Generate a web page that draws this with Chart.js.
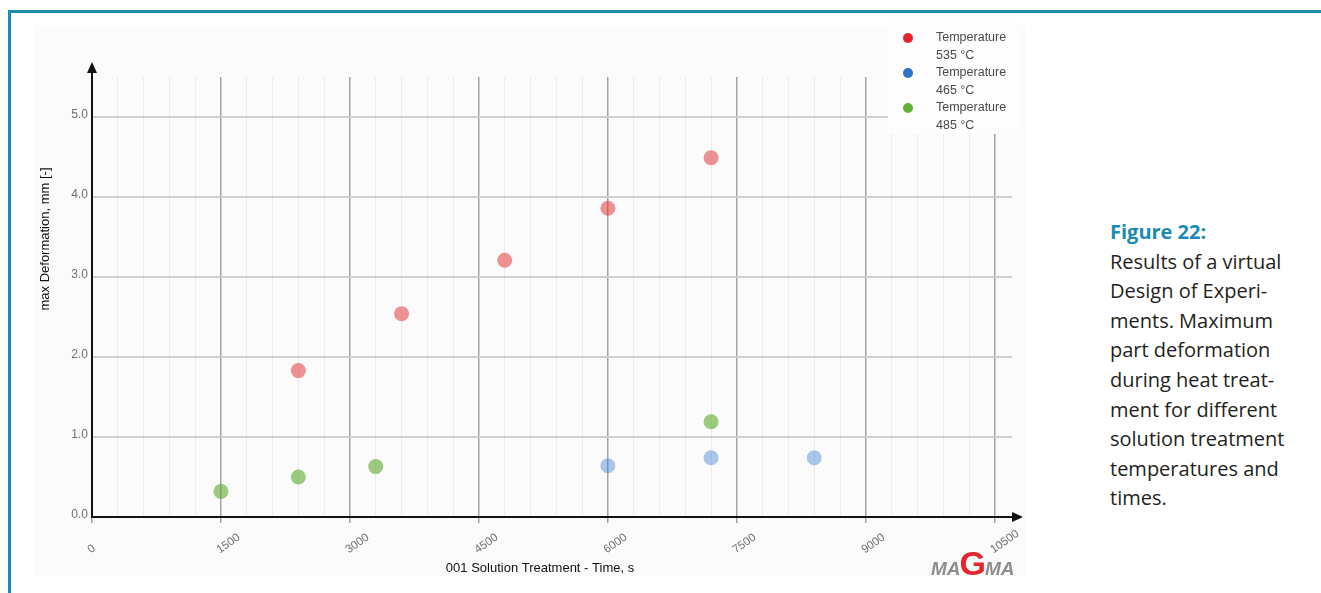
<!DOCTYPE html>
<html>
<head>
<meta charset="utf-8">
<script src="https://cdn.jsdelivr.net/npm/chart.js@4.4.1/dist/chart.umd.min.js"></script>
<style>
  html, body { margin: 0; padding: 0; background: #fff; }
  body { width: 1321px; height: 593px; position: relative; overflow: hidden; }
  .frame-top { position: absolute; left: 8px; top: 10px; width: 1313px; height: 3px; background: #1b8bb1; }
  .frame-left { position: absolute; left: 8px; top: 10px; width: 3px; height: 583px; background: #1b8bb1; }
  .panel { position: absolute; left: 35px; top: 25px; width: 990px; height: 551px; background: #fbfbfb; }
  #wrap { position: absolute; left: 0; top: 0; width: 1022px; height: 593px; }
  .caption { position: absolute; left: 1110px; top: 217px; width: 205px;
             font-family: "Open Sans", sans-serif; font-size: 20px; line-height: 29.6px; color: #231f20; }
  .caption .fig { color: #1b8bb1; font-weight: bold; }
</style>
</head>
<body>
<div class="panel"></div>
<div id="wrap"><canvas id="chart" width="1022" height="593"></canvas></div>
<div class="frame-top"></div>
<div class="frame-left"></div>
<div class="caption">
  <div class="fig">Figure 22:</div>
  <div>Results of a virtual</div>
  <div>Design of Experi-</div>
  <div>ments. Maximum</div>
  <div>part deformation</div>
  <div>during heat treat-</div>
  <div>ment for different</div>
  <div>solution treatment</div>
  <div>temperatures and</div>
  <div>times.</div>
</div>
<script>
// Solution treatment time (s) and maximum deformation (mm) per temperature
const time535 = [2400, 3600, 4800, 6000, 7200];
const def535  = [1.83, 2.54, 3.21, 3.86, 4.49];
const time465 = [6000, 7200, 8400];
const def465  = [0.64, 0.74, 0.74];
const time485 = [1500, 2400, 3300, 7200];
const def485  = [0.32, 0.50, 0.63, 1.19];

const seriesNames = [["Temperature", "535 °C"], ["Temperature", "465 °C"], ["Temperature", "485 °C"]];
const xTickValues = [0, 1500, 3000, 4500, 6000, 7500, 9000, 10500];
const xTickLabels = ["0", "1500", "3000", "4500", "6000", "7500", "9000", "10500"];
const yTickValues = [0, 1, 2, 3, 4, 5];
const yTickLabels = ["0.0", "1.0", "2.0", "3.0", "4.0", "5.0"];
const xTitle = "001 Solution Treatment - Time, s";
const yTitle = "max Deformation, mm [-]";

const pointColors  = ["rgba(226,40,44,0.5)", "rgba(50,125,210,0.42)", "rgba(92,170,44,0.6)"];
const legendColors = ["#e8232b", "#2f74c6", "#62b136"];

const toPoints = (xs, ys) => xs.map((x, i) => ({ x: x, y: ys[i] }));

// vertical grid every 300 s, labelled every 1500 s
const xGrid = [];
for (let v = 0; v <= 10500; v += 300) xGrid.push(v);
const isMajorX = v => v % 1500 === 0;

const decor = {
  id: 'decor',
  beforeDatasetsDraw(chart) {
    const { ctx, scales: { x, y } } = chart;
    ctx.save();
    // legend backdrop over the grid
    ctx.fillStyle = '#fdfdfd';
    ctx.fillRect(888, 22, 134, 112);
    // axes with arrow heads
    const x0 = x.getPixelForValue(0), y0 = y.getPixelForValue(0);
    ctx.strokeStyle = '#111';
    ctx.fillStyle = '#111';
    ctx.lineWidth = 2;
    ctx.beginPath();
    ctx.moveTo(x0, y0 + 1); ctx.lineTo(x0, 70);
    ctx.moveTo(x0 - 1, y0); ctx.lineTo(1014, y0);
    ctx.stroke();
    ctx.beginPath();
    ctx.moveTo(x0, 62); ctx.lineTo(x0 - 5, 73); ctx.lineTo(x0 + 5, 73); ctx.closePath(); ctx.fill();
    ctx.beginPath();
    ctx.moveTo(1023, y0); ctx.lineTo(1012, y0 - 5); ctx.lineTo(1012, y0 + 5); ctx.closePath(); ctx.fill();
    ctx.restore();
  },
  afterDraw(chart) {
    const { ctx, scales: { x, y } } = chart;
    ctx.save();
    // y tick labels
    ctx.font = '12px "Liberation Sans", Arial, sans-serif';
    ctx.fillStyle = '#717171';
    ctx.textAlign = 'right';
    ctx.textBaseline = 'middle';
    yTickValues.forEach((v, i) => ctx.fillText(yTickLabels[i], x.left - 4, y.getPixelForValue(v) - 2));
    // x tick labels, slanted upward to the right
    ctx.font = '11.5px "Liberation Sans", Arial, sans-serif';
    ctx.textAlign = 'left';
    xTickValues.forEach((v, i) => {
      ctx.save();
      ctx.translate(x.getPixelForValue(v) - 3, 551);
      ctx.rotate(-35 * Math.PI / 180);
      ctx.fillText(xTickLabels[i], 0, 0);
      ctx.restore();
    });
    // axis titles
    ctx.fillStyle = '#111';
    ctx.font = '13px "Liberation Sans", Arial, sans-serif';
    ctx.textAlign = 'center';
    ctx.fillText(xTitle, 540, 568);
    ctx.save();
    ctx.translate(45, 239);
    ctx.rotate(-Math.PI / 2);
    ctx.fillText(yTitle, 0, 0);
    ctx.restore();
    // legend
    ctx.font = '12.5px "Liberation Sans", Arial, sans-serif';
    ctx.textAlign = 'left';
    seriesNames.forEach((lines, i) => {
      const cy = 38 + i * 35;
      ctx.fillStyle = legendColors[i];
      ctx.beginPath(); ctx.arc(908, cy, 5, 0, Math.PI * 2); ctx.fill();
      ctx.fillStyle = '#4a4a4a';
      ctx.fillText(lines[0], 936, cy);
      ctx.fillText(lines[1], 936, cy + 18);
    });
    // MAGMA mark, bottom right
    ctx.textBaseline = 'alphabetic';
    ctx.font = 'italic bold 19px "Liberation Sans", Arial, sans-serif';
    ctx.fillStyle = '#8e8e8e';
    ctx.fillText('MA', 931, 575);
    let gx = 931 + ctx.measureText('MA').width - 1;
    ctx.font = 'bold 34px "Liberation Sans", Arial, sans-serif';
    ctx.fillStyle = '#e3262c';
    ctx.fillText('G', gx, 575);
    gx += ctx.measureText('G').width - 1;
    ctx.font = 'italic bold 19px "Liberation Sans", Arial, sans-serif';
    ctx.fillStyle = '#8e8e8e';
    ctx.fillText('MA', gx, 575);
    ctx.restore();
  }
};

new Chart(document.getElementById('chart'), {
  type: 'scatter',
  data: {
    datasets: [
      { label: seriesNames[0].join(' '), data: toPoints(time535, def535), backgroundColor: pointColors[0] },
      { label: seriesNames[1].join(' '), data: toPoints(time465, def465), backgroundColor: pointColors[1] },
      { label: seriesNames[2].join(' '), data: toPoints(time485, def485), backgroundColor: pointColors[2] }
    ]
  },
  options: {
    responsive: false,
    animation: false,
    layout: { padding: { left: 30, top: 77, right: 10, bottom: 0 } },
    elements: { point: { radius: 7.5, borderWidth: 0, hoverRadius: 7.5 } },
    plugins: { legend: { display: false }, tooltip: { enabled: false } },
    scales: {
      x: {
        type: 'linear', min: 0, max: 10700,
        afterBuildTicks: s => { s.ticks = xGrid.map(v => ({ value: v })); },
        afterFit: s => { s.height = 76; },
        ticks: { display: false },
        border: { display: false },
        grid: {
          drawTicks: true, tickLength: 6,
          color: c => isMajorX(c.tick.value) ? '#a3a3a3' : '#ececec',
          tickColor: c => isMajorX(c.tick.value) ? '#a3a3a3' : 'rgba(0,0,0,0)',
          lineWidth: c => isMajorX(c.tick.value) ? 1.5 : 1
        }
      },
      y: {
        type: 'linear', min: 0, max: 5.5,
        afterBuildTicks: s => { s.ticks = yTickValues.map(v => ({ value: v })); },
        afterFit: s => { s.width = 62; },
        ticks: { display: false },
        border: { display: false },
        grid: { drawTicks: false, color: '#cfcfcf', lineWidth: 2 }
      }
    }
  },
  plugins: [decor]
});
</script>
</body>
</html>
